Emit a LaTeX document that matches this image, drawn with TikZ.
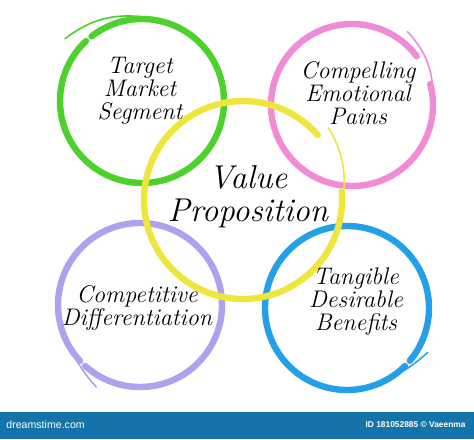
\documentclass[tikz,border=0pt]{standalone}
\usepackage{fontspec}
\newfontfamily\barfont{Liberation Sans}
\definecolor{ringgreen}{RGB}{76, 209, 45}
\definecolor{ringpink}{RGB}{240, 140, 215}
\definecolor{ringyellow}{RGB}{238, 230, 60}
\definecolor{ringpurple}{RGB}{176, 160, 238}
\definecolor{ringblue}{RGB}{35, 160, 232}
\definecolor{barblue}{RGB}{20, 115, 168}
\tikzset{ring/.style={line width=3.2pt, line cap=round}}
\tikzset{tail/.style={line width=0.8pt, line cap=round}}
\tikzset{ringtext/.style={align=center, font=\itshape\fontsize{12}{11.5}\selectfont}}
\tikzset{bigtext/.style={align=center, font=\itshape\fontsize{16.5}{16.5}\selectfont}}

\begin{document}
\begin{tikzpicture}[x=0.5pt, y=0.5pt]
        \useasboundingbox (0,0) rectangle (474,439);

        \coordinate (Cg) at (142,338);
        \coordinate (Cp) at (352,334);
        \coordinate (Cy) at (243,239);
        \coordinate (Cv) at (140,134);
        \coordinate (Cb) at (347,131);

        % brush rings
        \draw [ring, ringgreen] ([shift={(128:82)}]Cg) arc[start angle=128, end angle=-227, radius=82];
        \draw [tail, ringgreen] ([shift={(141:99)}]Cg) to [bend left=22] ([shift={(88:84)}]Cg);
        \draw [ring, ringpink] ([shift={(37:81)}]Cp) arc[start angle=37, end angle=375, radius=81];
        \draw [tail, ringpink] ([shift={(53:92)}]Cp) to [bend left=20] ([shift={(8:82)}]Cp);
        \draw [ring, ringpurple] ([shift={(228:82)}]Cv) arc[start angle=228, end angle=583, radius=82];
        \draw [tail, ringpurple] ([shift={(242:93)}]Cv) to [bend left=8] ([shift={(212:82)}]Cv);
        \draw [ring, ringblue] ([shift={(-40:82)}]Cb) arc[start angle=-40, end angle=315, radius=82];
        \draw [tail, ringblue] ([shift={(-29:92)}]Cb) to [bend left=10] ([shift={(-65:81)}]Cb);
        \draw [ring, ringyellow] ([shift={(41:99)}]Cy) arc[start angle=41, end angle=365, radius=99];
        \draw [tail, ringyellow] ([shift={(40:112)}]Cy) to [bend left=18] ([shift={(0:100)}]Cy);

        \node[ringtext] (target) at (140,348) {Target\\Market\\Segment};
        \node[ringtext] (pains) at (358,346) {Compelling\\Emotional\\Pains};
        \node[bigtext] (value) at (248,242) {Value\\Proposition};
        \node[ringtext] (compet) at (137,131) {Competitive\\Differentiation};
        \node[ringtext] (benefit) at (356,137) {Tangible\\Desirable\\Benefits};

        % bottom bar
        \fill[barblue] (0,0) rectangle (474,27);
        \node[anchor=west, text=white, inner sep=0pt, font=\barfont\fontsize{5.3}{6}\selectfont] (site) at (6,14) {dreamstime.com};
        \node[anchor=east, text=white, inner sep=0pt, font=\barfont\bfseries\fontsize{4.2}{5}\selectfont] (imgid) at (466,14) {ID 181052885 \textcopyright{} Vaeenma};
    \end{tikzpicture}
\end{document}
